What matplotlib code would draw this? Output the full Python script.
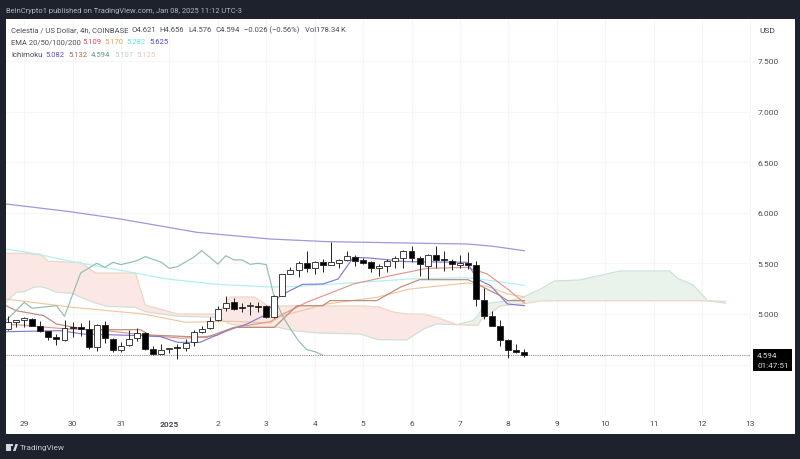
import numpy as np
import matplotlib
matplotlib.use("Agg")
from matplotlib import pyplot as plt
from matplotlib.patches import Rectangle, Polygon

plt.rcParams['font.family'] = ['Roboto', 'DejaVu Sans']

# candles, 4h, x is the candle number
opens = [4.852,4.924,4.937,4.954,4.881,4.829,4.773,4.746,4.872,4.865,4.852,4.674,4.891,4.756,4.641,4.694,
         4.763,4.809,4.654,4.605,4.651,4.667,4.667,4.720,4.822,4.858,4.937,5.056,5.122,5.066,5.076,5.079,
         5.076,4.974,5.181,5.399,5.438,5.501,5.455,5.511,5.488,5.507,5.530,5.567,5.537,5.511,5.455,5.471,
         5.520,5.557,5.626,5.553,5.478,5.580,5.540,5.527,5.481,5.504,5.484,5.142,4.984,4.878,4.743,4.644,4.621]
highs = [4.984,4.937,4.970,4.960,4.934,4.835,4.802,4.944,4.924,4.911,4.944,4.904,4.934,4.763,4.720,4.845,
         4.862,4.819,4.680,4.700,4.657,4.700,4.753,4.845,4.885,4.967,5.076,5.181,5.155,5.109,5.115,5.122,
         5.089,5.188,5.399,5.461,5.524,5.623,5.524,5.544,5.708,5.544,5.626,5.583,5.550,5.524,5.491,5.544,
         5.576,5.636,5.675,5.570,5.593,5.675,5.626,5.544,5.583,5.609,5.527,5.254,5.033,4.944,4.753,4.707,4.656]
lows = [4.845,4.868,4.868,4.881,4.819,4.746,4.694,4.730,4.773,4.786,4.651,4.638,4.713,4.621,4.628,4.687,
        4.736,4.641,4.595,4.601,4.615,4.555,4.638,4.680,4.812,4.852,4.931,5.033,5.036,5.016,4.990,5.023,
        4.964,4.964,5.175,5.392,5.362,5.418,5.399,5.412,5.484,5.451,5.527,5.478,5.491,5.412,5.372,5.418,
        5.451,5.451,5.517,5.379,5.346,5.451,5.428,5.438,5.458,5.445,5.076,4.951,4.878,4.680,4.568,4.611,4.576]
closes = [4.924,4.931,4.964,4.885,4.832,4.773,4.756,4.865,4.862,4.855,4.674,4.891,4.763,4.648,4.687,4.756,
          4.809,4.657,4.605,4.648,4.657,4.661,4.717,4.819,4.855,4.934,5.049,5.112,5.046,5.059,5.082,5.069,
          4.970,5.178,5.395,5.438,5.504,5.455,5.517,5.484,5.511,5.530,5.570,5.527,5.507,5.451,5.471,5.520,
          5.557,5.626,5.550,5.491,5.583,5.530,5.534,5.491,5.504,5.484,5.145,4.984,4.881,4.740,4.644,4.624,4.594]

ema200_x = [-0.25,7.7,13.9,23.4,32.5,39.5,51.9,56.9,60,64]
ema200 = [6.087,6.011,5.939,5.807,5.741,5.715,5.698,5.692,5.670,5.625]
ema100_x = [-0.25,3.1,8,13.5,19.7,25.9,32.5,35.3,43.6,49.8,56.9,60,64]
ema100 = [5.642,5.600,5.517,5.438,5.346,5.293,5.267,5.270,5.313,5.346,5.359,5.329,5.282]
ema50_x = [-0.25,8,16.8,22,28,32.5,33.7,39.5,45.7,49.8,56.9,59.4,61.9,64]
ema50 = [5.148,5.066,5.000,4.918,4.928,4.911,4.977,5.099,5.165,5.247,5.306,5.273,5.198,5.170]
ema20_x = [-0.25,1.5,7.3,11.4,17.6,21.7,25.8,28.1,32.5,33.7,37,42.8,47.8,51.9,56.9,59.4,61.9,64]
ema20 = [4.900,4.891,4.852,4.842,4.786,4.760,4.786,4.868,4.924,4.984,5.115,5.296,5.385,5.451,5.461,5.395,5.247,5.109]

tenkan_x = [-0.25,6.5,9.3,16.4,18.9,21,23.8,27.1,29.6,31.7,33.7,36.5,39,40.9,42.8,44.8,47.3,49.4,56.9,58.1,59.8,61.9,64]
tenkan = [4.825,4.835,4.802,4.786,4.776,4.720,4.720,4.835,4.901,4.984,5.181,5.293,5.296,5.346,5.560,5.553,5.534,5.517,5.511,5.346,5.280,5.099,5.082]
kijun_x = [-0.25,1,4.4,6,9.8,16.4,17.6,24.6,28,33,35.8,39,39.9,45.7,48.6,51,57,61,61.9,64]
kijun = [5.082,5.033,4.984,4.901,4.845,4.845,4.792,4.769,4.868,4.868,5.082,5.082,5.132,5.132,5.264,5.339,5.339,5.181,5.132,5.132]
chikou_x = [-0.25,2,3,6,7,9,11,12,13,14,16,17,19,20,21,23,24,26,27,28,29,30,31,32,33,34,35,36,37,38,39]
chikou = [4.934,5.115,5.056,5.082,4.977,5.405,5.501,5.461,5.511,5.488,5.527,5.567,5.511,5.451,5.468,5.560,5.626,
          5.494,5.576,5.534,5.534,5.491,5.501,5.488,5.165,4.984,4.852,4.736,4.648,4.628,4.594]

cloud_x = [-0.25,1,2,3.2,4,5,6,8,9,10.8,12.2,15.8,17,21,26,27.5,30.5,32.2,33.5,35.4,38.6,43.6,45.9,47.7,49.4,
           51.5,53.1,55.6,57.6,58.2,58.7,59.7,61,62.2,63.8,66,67.7,70.8,73,75.8,82,82.9,84.9,86.7,88.9]
span_a = [5.115,5.214,5.220,5.264,5.270,5.250,5.214,5.204,5.165,5.110,5.076,5.066,5.023,4.977,4.967,4.900,4.870,4.868,4.868,4.835,4.812,4.802,4.746,4.745,4.743,
          4.852,4.901,4.895,4.934,4.980,5.049,5.109,5.120,5.132,5.165,5.247,5.326,5.336,5.375,5.425,5.425,5.356,5.287,5.131,5.107]
span_b = [5.600,5.600,5.600,5.593,5.593,5.520,5.520,5.510,5.510,5.405,5.405,5.405,5.089,5.000,5.000,5.168,5.168,5.080,5.080,5.080,5.080,5.080,5.070,5.020,5.000,
          5.000,4.967,4.895,4.890,4.890,4.950,5.000,5.080,5.090,5.100,5.130,5.131,5.131,5.131,5.131,5.131,5.131,5.131,5.131,5.125]

day_ticks = [2,8,14,20,26,32,38,44,50,56,62,68,74,80,86,92]
day_labels = ['29','30','31','2025','2','3','4','5','6','7','8','9','10','11','12','13']
price_ticks = [4.5,5.0,5.5,6.0,6.5,7.0,7.5]
price_labels = ['','5.000','5.500','6.000','6.500','7.000','7.500']
last_price = 4.594

dark = '#1e222d'
fig = plt.figure(figsize=(8,4.6),dpi=100,facecolor=dark)
fig.patches.append(Rectangle((6/800,25/460),789/800,415/460,transform=fig.transFigure,facecolor='white',edgecolor='none',zorder=-1))
ax = fig.add_axes([6/800,43/460,745/800,397/460])
ax.set_facecolor('white')
ax.set_xlim(-0.25,92.07)
ax.set_ylim(3.992,7.915)
for s in ax.spines.values():
    s.set_visible(False)
ax.set_xticks(day_ticks)
ax.set_xticklabels(day_labels,fontsize=6,color='#4a4d55')
ax.get_xticklabels()[3].set_fontweight('bold')
ax.set_yticks(price_ticks)
ax.set_yticklabels(price_labels,fontsize=6,color='#4a4d55')
ax.yaxis.tick_right()
ax.tick_params(axis='both',length=0)
ax.tick_params(axis='y',pad=4.5)
ax.tick_params(axis='x',pad=3)
ax.grid(True,color='#f5f6f7',lw=0.8)
ax.set_axisbelow(True)

# cloud
cx = np.array(cloud_x)
a = np.array(span_a)
b = np.array(span_b)
ax.fill_between(cx,a,b,where=b>=a,interpolate=True,color='#fbe7e4',lw=0,zorder=1)
ax.fill_between(cx,a,b,where=a>=b,interpolate=True,color='#e9f3eb',lw=0,zorder=1)
ax.plot(cx,a,color='#cfe0d6',lw=0.9,zorder=2)
ax.plot(cx,b,color='#efd6c6',lw=0.9,zorder=2)

ax.plot(ema200_x,ema200,color='#a097dc',lw=0.9,zorder=3)
ax.plot(ema100_x,ema100,color='#b2f0f0',lw=0.9,zorder=3)
ax.plot(ema50_x,ema50,color='#f2c6a0',lw=0.85,zorder=3)
ax.plot(ema20_x,ema20,color='#e6958b',lw=0.85,zorder=3)
ax.plot(tenkan_x,tenkan,color='#817cd0',lw=0.85,zorder=3)
ax.plot(kijun_x,kijun,color='#bb8a78',lw=0.85,zorder=3)
ax.plot(chikou_x,chikou,color='#90c0a9',lw=0.85,zorder=3)

ax.axhline(last_price,color='#8a8d94',lw=0.8,ls=(0,(1,1)),zorder=3)

# candles
idx = np.arange(len(opens))
o = np.array(opens)
c = np.array(closes)
ax.vlines(idx,lows,highs,color='#222222',lw=0.7,zorder=4)
body_col = ['white' if c[i]>=o[i] else 'black' for i in idx]
ax.bar(idx,np.maximum(np.abs(c-o),0.012),bottom=np.minimum(o,c),width=0.74,color=body_col,edgecolor='#222222',lw=0.6,zorder=5)


def txt(x,y,s,color='#4a4d55',size=5.5,**kw):
    fig.text(x/800,1-y/460,s,color=color,fontsize=size,va='center',**kw)


txt(6,11,'BeInCrypto1 published on TradingView.com, Jan 08, 2025 11:12 UTC-3',color='#b4b7bf',size=5.45)
txt(11,30.5,'Celestia / US Dollar, 4h, COINBASE')
txt(132,30.5,'O4.621')
txt(159,30.5,'H4.656')
txt(188,30.5,'L4.576')
txt(215,30.5,'C4.594')
txt(244,30.5,'\u22120.026 (\u22120.56%)')
txt(305,30.5,'Vol178.34\u2009K')
txt(11,42.5,'EMA 20/50/100/200')
txt(82,42.5,'5.109',color='#e0495a')
txt(104,42.5,'5.170',color='#f0a24f')
txt(126,42.5,'5.282',color='#5fe6ea')
txt(149,42.5,'5.625',color='#4b46c4')
txt(11,55,'Ichimoku')
txt(45,55,'5.082',color='#5a54c8')
txt(68.5,55,'5.132',color='#b0684f')
txt(90.5,55,'4.594',color='#5d9c7e')
txt(114,55,'5.107',color='#bdd3c6')
txt(136,55,'5.125',color='#ecc9b4')
txt(759,31,'USD',color='#3a3d45',size=6)

# last price box
fig.patches.append(Rectangle((752.5/800,1-371.5/460),39/800,21.5/460,transform=fig.transFigure,facecolor='black',edgecolor='none',zorder=6))
fig.text(757/800,1-355.5/460,'4.594',color='#d8d8d8',fontsize=5.9,va='center',zorder=7)
fig.text(757/800,1-366/460,'01:47:51',color='#d8d8d8',fontsize=5.9,va='center',zorder=7)

# logo
logo = '#d5d7dc'
fig.patches.append(Rectangle((6/800,1-452/460),4.5/800,7.5/460,transform=fig.transFigure,facecolor=logo,edgecolor='none'))
fig.patches.append(Rectangle((6/800,1-447/460),7/800,2.5/460,transform=fig.transFigure,facecolor=logo,edgecolor='none'))
fig.patches.append(Polygon([(13/800,1-452/460),(15.5/800,1-445/460),(18/800,1-445/460),(15.5/800,1-452/460)],transform=fig.transFigure,facecolor=logo,edgecolor='none'))
txt(20,448,'TradingView',color='#c8cad0',size=5.9)

fig.savefig('out.png',dpi=100,facecolor=dark)
